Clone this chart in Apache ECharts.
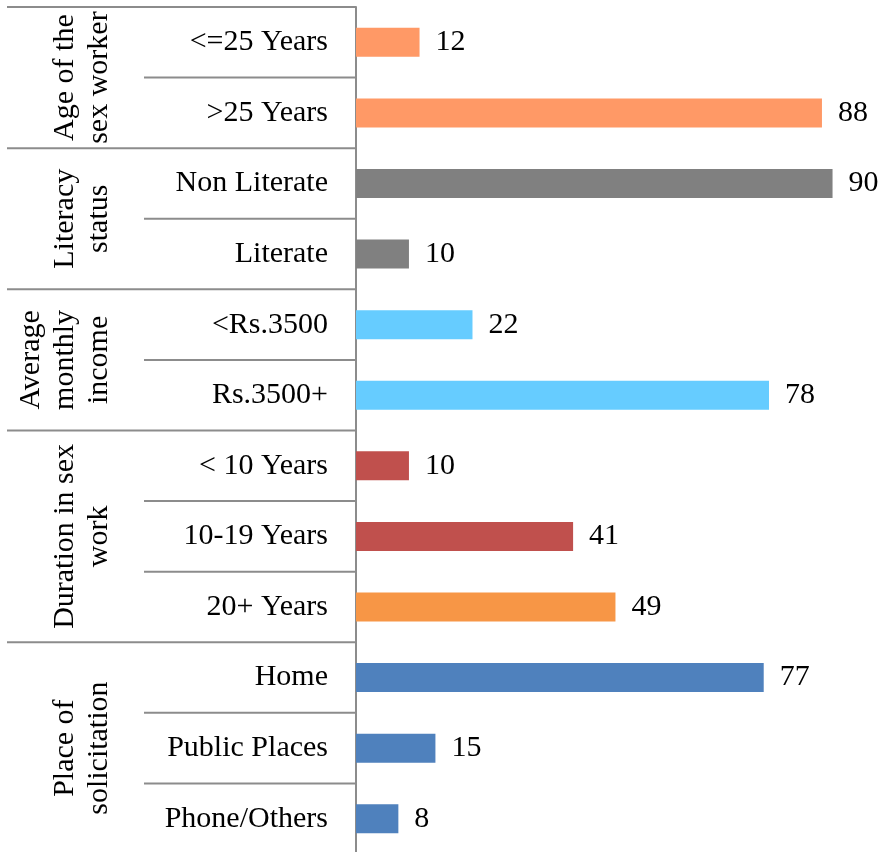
<!DOCTYPE html>
<html><head><meta charset="utf-8">
<script src="https://cdn.jsdelivr.net/npm/echarts@6/dist/echarts.min.js"></script>
<style>html,body{margin:0;padding:0;background:#fff}#c{width:881px;height:852px}</style>
</head><body><div id="c"></div>
<script>
const categories = ['<=25 Years','>25 Years','Non Literate','Literate','<Rs.3500','Rs.3500+','< 10 Years','10-19 Years','20+ Years','Home','Public Places','Phone/Others'];
const values = [12, 88, 90, 10, 22, 78, 10, 41, 49, 77, 15, 8];
const groupNames = ['Age of the\nsex worker', 'Literacy\nstatus', 'Average\nmonthly\nincome', 'Duration in sex\nwork', 'Place of\nsolicitation'];
const groupSizes = [2, 2, 2, 3, 3];
const barColors = ['#FF9966','#FF9966','#808080','#808080','#66CCFF','#66CCFF','#C0504D','#C0504D','#F79646','#4F81BD','#4F81BD','#4F81BD'];

const FONT = '"Liberation Serif", "DejaVu Serif", serif';
const LINE = '#8c8c8c';
const chart = echarts.init(document.getElementById('c'), null, {renderer: 'canvas'});
chart.setOption({
  animation: false,
  grid: {left: 356, width: 529.5, top: 7, height: 847, containLabel: false, outerBoundsMode: 'none'},
  xAxis: {type: 'value', min: 0, max: 100, show: false},
  yAxis: {
    type: 'category', data: categories, inverse: true,
    axisLine: {show: true, lineStyle: {color: LINE, width: 2}},
    axisTick: {show: false},
    axisLabel: {fontFamily: FONT, fontSize: 30, color: '#000', margin: 28}
  },
  series: [{
    type: 'bar',
    data: values.map((v, i) => ({value: v, itemStyle: {color: barColors[i]}})),
    barWidth: 29,
    label: {show: true, position: 'right', distance: 16, fontFamily: FONT, fontSize: 30, color: '#000'}
  }]
});

// separators and group labels positioned from the axis scale
const c0 = chart.convertToPixel({yAxisIndex: 0}, 0);
const c1 = chart.convertToPixel({yAxisIndex: 0}, 1);
const band = c1 - c0;
const axisX = chart.convertToPixel({xAxisIndex: 0}, 0);
const boundary = i => chart.convertToPixel({yAxisIndex: 0}, i) - band / 2;
const elements = [];
const line = (x1, y) => elements.push({type: 'line', shape: {x1: x1, y1: y, x2: axisX, y2: y}, style: {stroke: LINE, lineWidth: 2}, z: 10});
let start = 0;
line(7, boundary(0));
groupNames.forEach((name, g) => {
  const end = start + groupSizes[g];
  for (let i = start + 1; i < end; i++) line(144, boundary(i));
  line(7, boundary(end - 1) + band);
  const yMid = (boundary(start) + boundary(end - 1) + band) / 2;
  elements.push({
    type: 'text', x: 116, y: yMid, rotation: Math.PI / 2,
    style: {text: name, font: '30px ' + FONT, fill: '#000', align: 'center', verticalAlign: 'bottom', lineHeight: 34},
    z: 10
  });
  start = end;
});
chart.setOption({graphic: {elements: elements}});
</script>
</body></html>
